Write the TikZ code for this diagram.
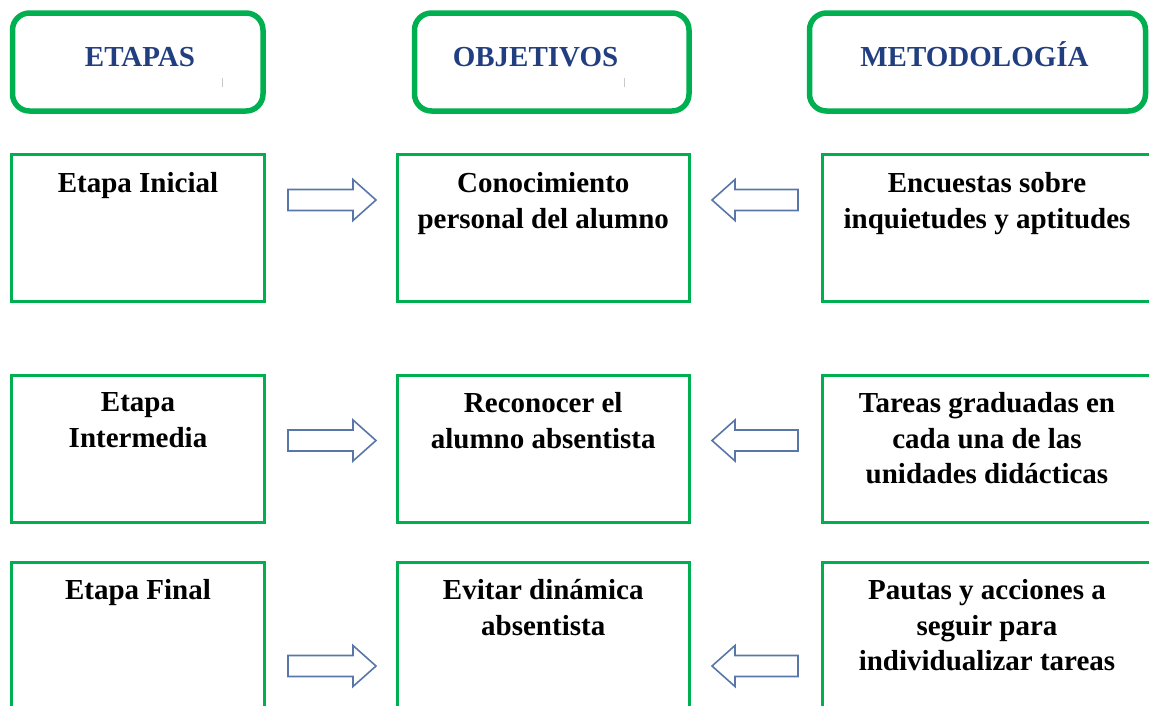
\documentclass[tikz,border=0pt]{standalone}
\usepackage{fontspec}
\setmainfont{Liberation Serif}
\definecolor{grn}{RGB}{0,176,80}
\definecolor{hblue}{RGB}{33,63,128}
\definecolor{arw}{RGB}{88,119,168}
\definecolor{tick}{RGB}{200,200,200}
\newcommand\rightblk[1]{\draw[barrow] (288,{#1-10.5}) -- (353,{#1-10.5}) -- (353,{#1-20.5}) -- (376,#1) -- (353,{#1+20.5}) -- (353,{#1+10.5}) -- (288,{#1+10.5}) -- cycle;}
\newcommand\leftblk[1]{\draw[barrow] (798,{#1-10.5}) -- (735,{#1-10.5}) -- (735,{#1-20.5}) -- (712,#1) -- (735,{#1+20.5}) -- (735,{#1+10.5}) -- (798,{#1+10.5}) -- cycle;}
\begin{document}
\begin{tikzpicture}[x=1pt,y=-1pt,
  hdr/.style={draw=grn, line width=5.5pt, rounded corners=17pt, outer sep=0pt, inner sep=0pt, anchor=north west, minimum height=98pt},
  box/.style={draw=grn, line width=3pt, outer sep=0pt, inner sep=0pt, anchor=north west},
  htxt/.style={font=\fontsize{29}{34}\selectfont\bfseries, text=hblue, inner sep=0pt, anchor=base},
  btxt/.style={font=\fontsize{29}{35.5}\selectfont\bfseries, align=center, inner sep=0pt, anchor=north},
  barrow/.style={draw=arw, fill=white, line width=1.6pt, line join=miter}]
\useasboundingbox (0,0) rectangle (1149,705);
% headers
\node[hdr, minimum width=250.5pt] (h1) at (12.5,13) {};
\node[hdr, minimum width=274.5pt] (h2) at (414.5,13) {};
\node[hdr, minimum width=336pt] (h3) at (809.5,13) {};
\node[htxt] (ht1) at (140,66) {ETAPAS};
\node[htxt] (ht2) at (535.5,66) {OBJETIVOS};
\node[htxt] (ht3) at (974.5,66) {METODOLOGÍA};
\draw[tick, line width=1pt] (222.5,78) -- (222.5,87);
\draw[tick, line width=1pt] (624,78) -- (624,87);
% row 1
\node[box, minimum width=253pt, minimum height=147pt] (b11) at (11.5,154.5) {};
\node[box, minimum width=292.5pt, minimum height=147pt] (b12) at (397,154.5) {};
\node[box, minimum width=330pt, minimum height=147pt] (b13) at (822,154.5) {};
% row 2
\node[box, minimum width=253pt, minimum height=147pt] (b21) at (11.5,375) {};
\node[box, minimum width=292.5pt, minimum height=147pt] (b22) at (397,375) {};
\node[box, minimum width=330pt, minimum height=147pt] (b23) at (822,375) {};
% row 3
\node[box, minimum width=253pt, minimum height=160pt] (b31) at (11.5,562) {};
\node[box, minimum width=292.5pt, minimum height=160pt] (b32) at (397,562) {};
\node[box, minimum width=330pt, minimum height=160pt] (b33) at (822,562) {};
% texts
\node[btxt] (t11) at ([yshift=-18pt]b11.north) {Etapa Inicial};
\node[btxt] (t12) at ([yshift=-18pt]b12.north) {Conocimiento\\personal del alumno};
\node[btxt] (t13) at ([yshift=-18pt]b13.north) {Encuestas sobre\\inquietudes y aptitudes};
\node[btxt] (t21) at ([yshift=-17.5pt]b21.north) {Etapa\\Intermedia};
\node[btxt] (t22) at ([yshift=-17.5pt]b22.north) {Reconocer el\\alumno absentista};
\node[btxt] (t23) at ([yshift=-17.5pt]b23.north) {Tareas graduadas en\\cada una de las\\unidades didácticas};
\node[btxt] (t31) at ([yshift=-17.5pt]b31.north) {Etapa Final};
\node[btxt] (t32) at ([yshift=-17.5pt]b32.north) {Evitar dinámica\\absentista};
\node[btxt] (t33) at ([yshift=-17.5pt]b33.north) {Pautas y acciones a\\seguir para\\individualizar tareas};
% block arrows
\rightblk{200}
\rightblk{440.5}
\rightblk{666}
\leftblk{200}
\leftblk{440.5}
\leftblk{666}
\end{tikzpicture}
\end{document}
